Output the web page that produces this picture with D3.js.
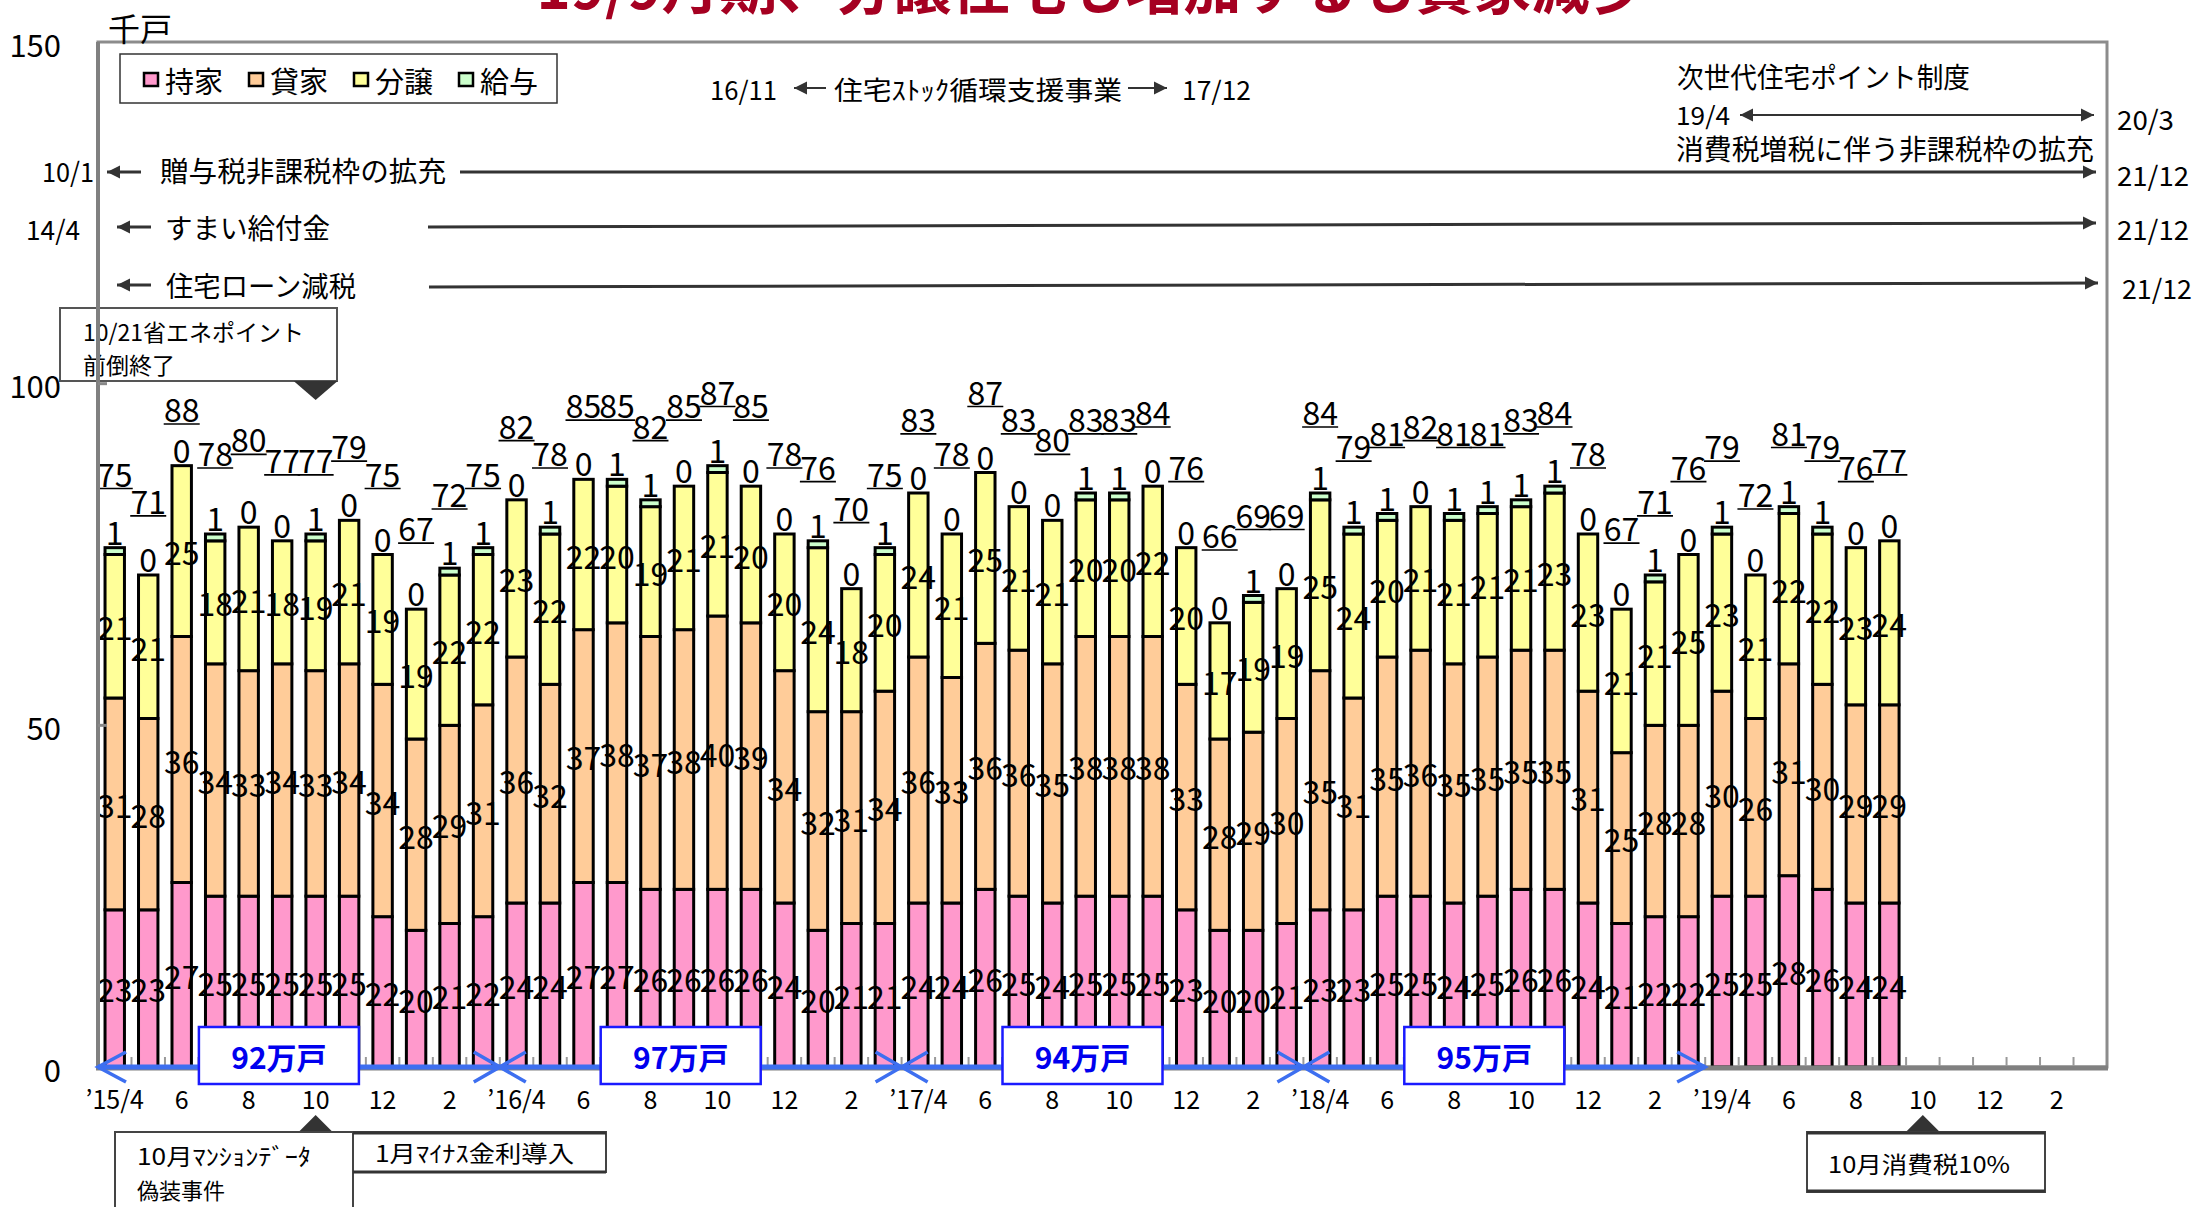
<!DOCTYPE html>
<html><head><meta charset="utf-8">
<script src="https://cdn.jsdelivr.net/npm/d3@7"></script>
<style>
body{margin:0;background:#fff}
svg{display:block}
text{font-family:"Noto Sans CJK JP","Noto Sans",sans-serif;fill:#000}
</style>
</head><body>
<svg id="c" width="2195" height="1207"></svg>
<script>
// ---------- data ----------
const months = [
 "2015-04","2015-05","2015-06","2015-07","2015-08","2015-09","2015-10","2015-11","2015-12","2016-01","2016-02","2016-03",
 "2016-04","2016-05","2016-06","2016-07","2016-08","2016-09","2016-10","2016-11","2016-12","2017-01","2017-02","2017-03",
 "2017-04","2017-05","2017-06","2017-07","2017-08","2017-09","2017-10","2017-11","2017-12","2018-01","2018-02","2018-03",
 "2018-04","2018-05","2018-06","2018-07","2018-08","2018-09","2018-10","2018-11","2018-12","2019-01","2019-02","2019-03",
 "2019-04","2019-05","2019-06","2019-07","2019-08","2019-09","2019-10","2019-11","2019-12","2020-01","2020-02","2020-03"];
const tickMonths = ["2015-04","2015-06","2015-08","2015-10","2015-12","2016-02",
 "2016-04","2016-06","2016-08","2016-10","2016-12","2017-02",
 "2017-04","2017-06","2017-08","2017-10","2017-12","2018-02",
 "2018-04","2018-06","2018-08","2018-10","2018-12","2019-02",
 "2019-04","2019-06","2019-08","2019-10","2019-12","2020-02"];
const tickLabels = ["’15/4","6","8","10","12","2","’16/4","6","8","10","12","2",
 "’17/4","6","8","10","12","2","’18/4","6","8","10","12","2","’19/4","6","8","10","12","2"];
const yTicks = [0,50,100,150];

const mochiie = [23,23,27,25,25,25,25,25,22,20,21,22, 24,24,27,27,26,26,26,26,24,20,21,21,
                 24,24,26,25,24,25,25,25,23,20,20,21, 23,23,25,25,24,25,26,26,24,21,22,22,
                 25,25,28,26,24,24];
const kashiya = [31,28,36,34,33,34,33,34,34,28,29,31, 36,32,37,38,37,38,40,39,34,32,31,34,
                 36,33,36,36,35,38,38,38,33,28,29,30, 35,31,35,36,35,35,35,35,31,25,28,28,
                 30,26,31,30,29,29];
const bunjo   = [21,21,25,18,21,18,19,21,19,19,22,22, 23,22,22,20,19,21,21,20,20,24,18,20,
                 24,21,25,21,21,20,20,22,20,17,19,19, 25,24,20,21,21,21,21,23,23,21,21,25,
                 23,21,22,22,23,24];
const kyuyo   = [1,0,0,1,0,0,1,0,0,0,1,1, 0,1,0,1,1,0,1,0,0,1,0,1,
                 0,0,0,0,0,1,1,0,0,0,1,0, 1,1,1,0,1,1,1,1,0,0,1,0,
                 1,0,1,1,0,0];
const totals  = [75,71,88,78,80,77,77,79,75,67,72,75, 82,78,85,85,82,85,87,85,78,76,70,75,
                 83,78,87,83,80,83,83,84,76,66,69,69, 84,79,81,82,81,81,83,84,78,67,71,76,
                 79,72,81,79,76,77];
const seriesNames = ["持家","貸家","分譲","給与"];
const seriesColors = ["#ff99cc","#ffcc99","#ffff99","#ccffcc"];

const fyStarts = ["2015-04","2016-04","2017-04","2018-04"];
const fyEnd = "2019-04";
const fyLabels = ["92万戸","97万戸","94万戸","95万戸"];

// ---------- setup ----------
const svg = d3.select("#c");
const x = d3.scaleBand().domain(months).range([98,2107]);
const y = d3.scaleLinear().domain([0,150]).range([1067,42]);
const bwBand = x.bandwidth();
const bw = bwBand*0.58;
const cx = m => x(m) + bwBand/2;
const TOTAL_LIFT = 12;
const CALLOUT = {x:60, y:308, w:277, h:73};

const rows = mochiie.map((v,i)=>({m:months[i], 持家:v, 貸家:kashiya[i], 分譲:bunjo[i], 給与:kyuyo[i], total:totals[i]}));
const color = d3.scaleOrdinal().domain(seriesNames).range(seriesColors);
const stacked = d3.stack().keys(seriesNames)(rows);

// total label position: lifted above the bar, kept clear of the callout box
function totalY(d){
  let ty = y(d.total + TOTAL_LIFT);
  if (cx(d.m) < CALLOUT.x + CALLOUT.w + 20) ty = Math.max(ty, CALLOUT.y + CALLOUT.h + 27);
  return ty;
}

const defs = svg.append("defs");
defs.append("marker").attr("id","tri").attr("viewBox","0 0 10 10")
  .attr("refX",10).attr("refY",5).attr("markerUnits","userSpaceOnUse")
  .attr("markerWidth",13).attr("markerHeight",15).attr("orient","auto-start-reverse")
  .append("path").attr("d","M0,0 L10,5 L0,10 z").attr("fill","#333");

// title (mostly outside the top edge)
svg.append("text").attr("x",1092).attr("y",9).attr("text-anchor","middle")
  .attr("font-size",58).attr("font-weight","bold").style("fill","#a50021")
  .text("19/9月期、分譲住宅も増加するも貸家減少");

// top-left callout box (under axis)
const g0 = svg.append("g");
g0.append("rect").attr("x",CALLOUT.x).attr("y",CALLOUT.y).attr("width",CALLOUT.w).attr("height",CALLOUT.h)
  .attr("fill","#fff").attr("stroke","#555").attr("stroke-width",2);
g0.append("text").attr("x",83).attr("y",331).attr("dominant-baseline","central").attr("font-size",23).attr("textLength",221).attr("lengthAdjust","spacingAndGlyphs").text("10/21省エネポイント");
g0.append("text").attr("x",83).attr("y",364).attr("dominant-baseline","central").attr("font-size",23).text("前倒終了");
{
  const tx = cx("2015-10");
  g0.append("path").attr("d",`M${tx-22},381 L${tx+22},381 L${tx},400 z`).attr("fill","#333");
}

// plot border
svg.append("rect").attr("x",98).attr("y",42).attr("width",2009).attr("height",1025)
  .attr("fill","none").attr("stroke","#8c8c8c").attr("stroke-width",3);

// bars
const gb = svg.append("g");
stacked.forEach(s=>{
  gb.selectAll(null).data(s).join("rect")
    .attr("x",d=>x(d.data.m)+(bwBand-bw)/2)
    .attr("y",d=>y(d[1]))
    .attr("width",bw)
    .attr("height",d=>y(d[0])-y(d[1]))
    .attr("fill",color(s.key))
    .attr("stroke","#000").attr("stroke-width",3);
});

// segment labels
const gl = svg.append("g").attr("font-size",32).attr("text-anchor","middle");
stacked.slice(0,3).forEach(s=>{
  gl.selectAll(null).data(s).join("text")
    .attr("x",d=>cx(d.data.m))
    .attr("y",d=>(y(d[0])+y(d[1]))/2)
    .attr("dominant-baseline","central")
    .text(d=>d.data[s.key]);
});
// 給与 labels above bar
gl.selectAll(null).data(stacked[3]).join("text")
  .attr("x",d=>cx(d.data.m)).attr("y",d=>y(d[1])-17)
  .attr("dominant-baseline","central").text(d=>d.data["給与"]);
// totals, underlined
const gt = svg.append("g").attr("font-size",32).attr("text-anchor","middle");
gt.selectAll(null).data(rows).join("text")
  .attr("x",d=>cx(d.m)).attr("y",totalY)
  .attr("dominant-baseline","central").text(d=>d.total);
gt.selectAll(null).data(rows).join("line")
  .attr("x1",d=>cx(d.m)-18).attr("x2",d=>cx(d.m)+18)
  .attr("y1",d=>totalY(d)+16).attr("y2",d=>totalY(d)+16)
  .attr("stroke","#000").attr("stroke-width",1.6);

// axes
svg.append("line").attr("x1",98).attr("x2",98).attr("y1",42).attr("y2",1068).attr("stroke","#808080").attr("stroke-width",4);
svg.append("line").attr("x1",96).attr("x2",2108).attr("y1",1068).attr("y2",1068).attr("stroke","#808080").attr("stroke-width",5);
svg.append("g").selectAll(null).data(yTicks.filter(v=>v>0 && v<150)).join("line")
  .attr("x1",98).attr("x2",107).attr("y1",d=>y(d)).attr("y2",d=>y(d)).attr("stroke","#888").attr("stroke-width",3);
svg.append("g").attr("font-size",31).attr("text-anchor","end").selectAll(null).data(yTicks).join("text")
  .attr("x",61).attr("y",d=>y(d)+1).attr("dominant-baseline","central").text(d=>d);
svg.append("text").attr("x",108).attr("y",27).attr("dominant-baseline","central").attr("font-size",32).text("千戸");
svg.append("g").selectAll(null).data(months.slice(1)).join("line")
  .attr("x1",d=>x(d)).attr("x2",d=>x(d)).attr("y1",1066).attr("y2",1057)
  .attr("stroke","#999").attr("stroke-width",2);
svg.append("g").attr("font-size",25).attr("text-anchor","middle").selectAll(null)
  .data(tickMonths).join("text")
  .attr("x",d=>cx(d)).attr("y",1098).attr("dominant-baseline","central")
  .text((d,i)=>tickLabels[i]);

// legend
const lg = svg.append("g");
lg.append("rect").attr("x",120).attr("y",54).attr("width",437).attr("height",49)
  .attr("fill","#fff").attr("stroke","#333").attr("stroke-width",1.5);
seriesNames.forEach((n,i)=>{
  lg.append("rect").attr("x",144+i*105).attr("y",73).attr("width",14).attr("height",13)
    .attr("fill",color(n)).attr("stroke","#000").attr("stroke-width",2.5);
  lg.append("text").attr("x",165+i*105).attr("y",80).attr("dominant-baseline","central")
    .attr("font-size",29).text(n);
});

// policy annotations
const ga = svg.append("g");
function txt(t,xx,yy,fs,len){
  const e = ga.append("text").attr("x",xx).attr("y",yy).attr("dominant-baseline","central").attr("font-size",fs).text(t);
  if(len) e.attr("textLength",len).attr("lengthAdjust","spacingAndGlyphs");
  return e;
}
function arrow(x1,y1,x2,y2,both,w){
  const l = ga.append("line").attr("x1",x1).attr("y1",y1).attr("x2",x2).attr("y2",y2)
    .attr("stroke","#333").attr("stroke-width",w||3).attr("marker-end","url(#tri)");
  if(both) l.attr("marker-start","url(#tri)");
}
txt("16/11",710,88,26,67);
arrow(826,88,794,88,false,2);
txt("住宅ｽﾄｯｸ循環支援事業",834,88,26,288);
arrow(1128,88,1167,88,false,2);
txt("17/12",1182,88,26,69);

txt("次世代住宅ポイント制度",1677,76,28,293);
txt("19/4",1676,114,25,54);
arrow(1740,115,2094,115,true,2);
txt("20/3",2117,118,27,57);
txt("消費税増税に伴う非課税枠の拡充",1676,148,28,418);

txt("10/1",42,170,27,52);
arrow(141,172,107,172,false,3);
txt("贈与税非課税枠の拡充",160,170,28,286);
arrow(460,172,2096,172,false,3);
txt("21/12",2117,174,27,72);

txt("14/4",26,228,27,54);
arrow(151,227,117,227,false,3);
txt("すまい給付金",165,227,28,165);
arrow(428,227,2096,223,false,3);
txt("21/12",2117,228,27,72);

arrow(151,285,117,285,false,3);
txt("住宅ローン減税",166,285,28,190);
arrow(429,287,2098,283,false,3);
txt("21/12",2122,287,27,70);

// bottom callouts
const gc = svg.append("g");
{
  const t1 = cx("2015-10");
  gc.append("path").attr("d",`M${t1-17},1132 L${t1+17},1132 L${t1},1115 z`).attr("fill","#333");
  const t2 = cx("2019-10");
  gc.append("path").attr("d",`M${t2-17},1132 L${t2+17},1132 L${t2},1115 z`).attr("fill","#333");
}
gc.append("rect").attr("x",115).attr("y",1132).attr("width",238).attr("height",90)
  .attr("fill","#fff").attr("stroke","#444").attr("stroke-width",2);
gc.append("text").attr("x",137).attr("y",1155).attr("dominant-baseline","central").attr("font-size",23).attr("textLength",174).attr("lengthAdjust","spacingAndGlyphs").text("10月ﾏﾝｼｮﾝﾃﾞｰﾀ");
gc.append("text").attr("x",137).attr("y",1189).attr("dominant-baseline","central").attr("font-size",22).text("偽装事件");
gc.append("rect").attr("x",353).attr("y",1132).attr("width",253).attr("height",40)
  .attr("fill","#fff").attr("stroke","#444").attr("stroke-width",2);
gc.append("line").attr("x1",353).attr("x2",606).attr("y1",1133).attr("y2",1133).attr("stroke","#333").attr("stroke-width",3);
gc.append("line").attr("x1",353).attr("x2",606).attr("y1",1172).attr("y2",1172).attr("stroke","#333").attr("stroke-width",3);
gc.append("text").attr("x",375).attr("y",1152).attr("dominant-baseline","central").attr("font-size",23).attr("textLength",199).attr("lengthAdjust","spacingAndGlyphs").text("1月ﾏｲﾅｽ金利導入");
gc.append("rect").attr("x",1807).attr("y",1132).attr("width",238).attr("height",60)
  .attr("fill","#fff").attr("stroke","#444").attr("stroke-width",2);
gc.append("line").attr("x1",1807).attr("x2",2045).attr("y1",1133).attr("y2",1133).attr("stroke","#333").attr("stroke-width",3);
gc.append("line").attr("x1",1807).attr("x2",2045).attr("y1",1191).attr("y2",1191).attr("stroke","#333").attr("stroke-width",3);
gc.append("text").attr("x",1828).attr("y",1163).attr("dominant-baseline","central").attr("font-size",23).attr("textLength",182).attr("lengthAdjust","spacingAndGlyphs").text("10月消費税10%");

// fiscal-year blue annotation
const gf = svg.append("g").attr("stroke","#3d6ff0").attr("stroke-width",3.5).attr("fill","none");
const xStart = x(fyStarts[0]), xEnd = x(fyEnd);
gf.append("line").attr("x1",xStart).attr("x2",xEnd).attr("y1",1067).attr("y2",1067).attr("stroke-width",5);
gf.append("path").attr("d",`M${xStart+28},1052 L${xStart},1067 L${xStart+28},1082`);
gf.append("path").attr("d",`M${xEnd-28},1052 L${xEnd},1067 L${xEnd-28},1082`);
fyStarts.slice(1).forEach(m=>{
  const bx = x(m);
  gf.append("path").attr("d",`M${bx-26},1052 L${bx+26},1082 M${bx-26},1082 L${bx+26},1052`);
});
const fyBounds = fyStarts.map((m,i)=>[x(m), i<fyStarts.length-1 ? x(fyStarts[i+1]) : xEnd]);
const gfl = svg.append("g");
fyBounds.forEach((b,i)=>{
  const c = (b[0]+b[1])/2 - 20;
  gfl.append("rect").attr("x",c-80).attr("y",1027).attr("width",160).attr("height",57)
    .attr("fill","#fff").attr("stroke","#1a1aff").attr("stroke-width",2.5);
  gfl.append("text").attr("x",c).attr("y",1056).attr("text-anchor","middle").attr("dominant-baseline","central")
    .attr("font-size",30).attr("font-weight","bold").style("fill","#0000ee").text(fyLabels[i]);
});
</script>
</body></html>
